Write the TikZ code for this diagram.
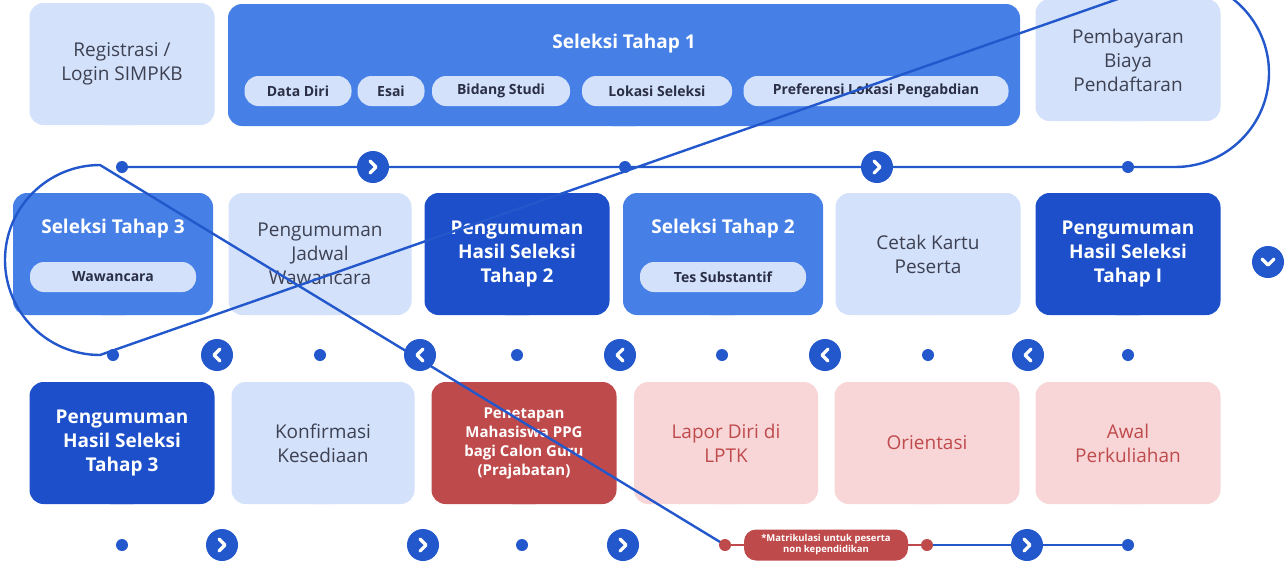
\documentclass[tikz,border=0pt]{standalone}
\usepackage{fontspec}
\setmainfont{Open Sans}
\usetikzlibrary{calc,positioning}
\definecolor{lightblue}{HTML}{D3E1FB}
\definecolor{midblue}{HTML}{4680E6}
\definecolor{darkblue}{HTML}{1C4FC9}
\definecolor{lineblue}{HTML}{2357CC}
\definecolor{darkred}{HTML}{BF4A4B}
\definecolor{lightpink}{HTML}{F8D6D8}
\definecolor{greytext}{HTML}{3D4152}
\definecolor{pilltext}{HTML}{2A2F45}
\newcommand{\tip}[2]{\fill[#2] ($(#1.south)+(-12,0)$) -- ($(#1.south)+(12,0)$) -- ($(#1.south)+(0,-13)$) -- cycle;}
\newcommand{\chev}[3]{% name, x, y ; #3 direction: 1 right, -1 left, 0 down
  \node[chevc] (#1) at (#2) {};
  \ifnum#3=0
    \draw[white,line width=3.2pt,line cap=round,line join=round] ($(#1)+(-6,-3)$) -- ($(#1)+(0,3)$) -- ($(#1)+(6,-3)$);
  \else
    \draw[white,line width=3.2pt,line cap=round,line join=round] ($(#1)+(-3*#3,6)$) -- ($(#1)+(3*#3,0)$) -- ($(#1)+(-3*#3,-6)$);
  \fi}
\begin{document}
\begin{tikzpicture}[x=1pt, y=-1pt,
    box/.style={rounded corners=14pt, minimum width=#1, minimum height=122pt, inner sep=0pt, align=center, font=\fontsize{19}{24}\selectfont},
    soft/.style={box=#1, fill=lightblue, text=greytext},
    mid/.style={box=#1, fill=midblue, text=white, font=\fontsize{19}{24}\selectfont\bfseries},
    dark/.style={box=#1, fill=darkblue, text=white, font=\fontsize{19}{24}\selectfont\bfseries},
    red/.style={box=#1, fill=darkred, text=white, font=\fontsize{15}{19}\selectfont\bfseries},
    pink/.style={box=#1, fill=lightpink, text=darkred},
    pill/.style={fill=lightblue, text=pilltext, rounded corners=14pt, minimum height=30pt, inner sep=0pt, font=\fontsize{14}{16}\selectfont\bfseries},
    dot/.style={circle, fill=#1, minimum size=12pt, inner sep=0pt},
    dot/.default=lineblue,
    chevc/.style={circle, fill=lineblue, minimum size=32pt, inner sep=0pt},
    track/.style={draw=lineblue, line width=2.4pt}]
  \useasboundingbox (0,0) rectangle (1285,568);

  % Row 1
  \node[soft=185pt] (regist) at (122,64) {Registrasi /\\Login SIMPKB};
  \tip{regist}{lightblue}
  \node[mid=792pt, minimum height=122pt] (tahap1) at (624,65) {};
  \tip{tahap1}{midblue}
  \node[font=\fontsize{19}{24}\selectfont\bfseries, text=white] (tahap1t) at (624,44) {Seleksi Tahap 1};
  \node[pill, minimum width=107pt] (datadiri) at (298,91) {Data Diri};
  \node[pill, minimum width=67pt] (esai) at (391,91) {Esai};
  \node[pill, minimum width=138pt] (bidang) at (501,91) {Bidang Studi};
  \node[pill, minimum width=150pt] (lokasi) at (657,91) {Lokasi Seleksi};
  \node[pill, minimum width=265pt] (preferensi) at (876,91) {Preferensi Lokasi Pengabdian};
  \node[soft=185pt] (bayar) at (1128,60) {Pembayaran\\Biaya\\Pendaftaran};
  \tip{bayar}{lightblue}

  % Row 2
  \node[mid=200pt] (tahap3) at (113,254) {};
  \tip{tahap3}{midblue}
  \node[font=\fontsize{19}{24}\selectfont\bfseries, text=white] (tahap3t) at (113,229) {Seleksi Tahap 3};
  \node[pill, minimum width=166pt] (wawancara) at (113,277) {Wawancara};
  \node[soft=183pt] (jadwal) at (320,254) {Pengumuman\\Jadwal\\Wawancara};
  \tip{jadwal}{lightblue}
  \node[dark=185pt] (hasil2) at (517,254) {Pengumuman\\Hasil Seleksi\\Tahap 2};
  \tip{hasil2}{darkblue}
  \node[mid=200pt] (tahap2) at (723,254) {};
  \tip{tahap2}{midblue}
  \node[font=\fontsize{19}{24}\selectfont\bfseries, text=white] (tahap2t) at (723,229) {Seleksi Tahap 2};
  \node[pill, minimum width=166pt] (substantif) at (723,277) {Tes Substantif};
  \node[soft=185pt] (kartu) at (928,254) {Cetak Kartu\\Peserta};
  \tip{kartu}{lightblue}
  \node[dark=185pt] (hasil1) at (1128,254) {Pengumuman\\Hasil Seleksi\\Tahap I};
  \tip{hasil1}{darkblue}

  % Row 3
  \node[dark=185pt] (hasil3) at (122,443) {Pengumuman\\Hasil Seleksi\\Tahap 3};
  \tip{hasil3}{darkblue}
  \node[soft=183pt] (konfirmasi) at (323,443) {Konfirmasi\\Kesediaan};
  \tip{konfirmasi}{lightblue}
  \node[red=185pt] (penetapan) at (524,443) {Penetapan\\Mahasiswa PPG\\bagi Calon Guru\\(Prajabatan)};
  \tip{penetapan}{darkred}
  \node[pink=184pt] (lapor) at (726,443) {Lapor Diri di\\LPTK};
  \tip{lapor}{lightpink}
  \node[pink=185pt] (orientasi) at (927,443) {Orientasi};
  \tip{orientasi}{lightpink}
  \node[pink=185pt] (kuliah) at (1128,443) {Awal\\Perkuliahan};
  \tip{kuliah}{lightpink}

  % Track
  \coordinate (start) at (122,167);
  \coordinate (turnR) at (1175,167);
  \coordinate (turnL) at (100,355);
  \draw[track] (start) -- (turnR) arc[start angle=90, end angle=-90, radius=94] -- (turnL)
    arc[start angle=90, end angle=270, radius=95] -- (725,545);
  \draw[track] (927,545) -- (1128,545);
  \draw[draw=darkred, line width=2.4pt] (725,545) -- (927,545);

  \foreach \x in {122,625,1128} \node[dot] at (\x,167) {};
  \foreach \x in {113,320,517,722,928,1128} \node[dot] at (\x,355) {};
  \foreach \x in {122,522,1128} \node[dot] at (\x,545) {};
  \node[dot=darkred] (redA) at (725,545) {};
  \node[dot=darkred] (redB) at (927,545) {};
  \node[fill=darkred, text=white, rounded corners=12pt, minimum width=164pt, minimum height=31pt, inner sep=0pt, align=center, font=\fontsize{9.5}{11}\selectfont\bfseries] (matrik) at (826,545) {*Matrikulasi untuk peserta\\non kependidikan};

  \chev{c1}{373,167}{1}
  \chev{c2}{877,167}{1}
  \chev{c3}{1268,262}{0}
  \foreach \x [count=\i] in {217,420,620,825,1028} {\chev{l\i}{\x,355}{-1}}
  \foreach \x [count=\i] in {222,423,623,1027} {\chev{r\i}{\x,545}{1}}
\end{tikzpicture}
\end{document}
